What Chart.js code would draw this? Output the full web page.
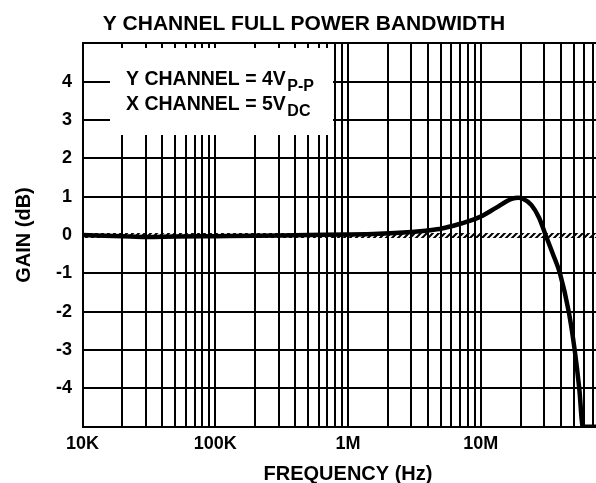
<!DOCTYPE html>
<html>
<head>
<meta charset="utf-8">
<script src="https://cdn.jsdelivr.net/npm/chart.js@4"></script>
<style>
html, body { margin: 0; padding: 0; overflow: hidden; background: #fff; width: 596px; height: 483px; }
#wrap { width: 620px; height: 483px; }
canvas { display: block; }
</style>
</head>
<body>
<div id="wrap"><canvas id="c" width="620" height="483"></canvas></div>
<script>
// ---- text ----
const chartTitle = 'Y CHANNEL FULL POWER BANDWIDTH';
const xAxisTitle = 'FREQUENCY (Hz)';
const yAxisTitle = 'GAIN (dB)';
const legendMain = ['Y CHANNEL = 4V', 'X CHANNEL = 5V'];
const legendSub = ['P-P', 'DC'];

// ---- data ----
const frequencyHz = [1e4, 2e4, 3e4, 5e4, 1e5, 2e5, 5e5, 1e6, 1.7e6, 3e6, 4e6, 5.1e6, 6.8e6, 9.1e6, 1e7,
  1.29e7, 1.71e7, 1.93e7, 2.06e7, 2.41e7, 2.75e7, 3.08e7, 3.5e7, 3.95e7, 4.6e7, 5.1e7, 5.52e7, 5.88e7, 1e8];
const gainDb = [0.0, -0.03, -0.05, -0.04, -0.03, -0.02, 0.0, 0.01, 0.03, 0.08, 0.12, 0.17, 0.28, 0.42, 0.48,
  0.7, 0.94, 0.97, 0.95, 0.78, 0.45, 0.0, -0.5, -1.0, -2.0, -3.0, -4.0, -5.0, -5.0];

// ---- axes ----
const decadeStarts = [1e4, 1e5, 1e6, 1e7];
const decadeMultipliers = [1, 2, 3, 4, 5, 6, 7, 8, 9];
const xGridValues = decadeStarts.flatMap(d => decadeMultipliers.map(m => m * d)).concat([1e8]);
const xLabelValues = [1e4, 1e5, 1e6, 1e7];
const xLabelTexts = ['10K', '100K', '1M', '10M'];
const yLabelValues = [-4, -3, -2, -1, 0, 1, 2, 3, 4];
const yLabelTexts = ['-4', '-3', '-2', '-1', '0', '1', '2', '3', '4'];

const FONT = "'Liberation Sans', Arial, Helvetica, sans-serif";

function makeHatch() {
  const c = document.createElement('canvas');
  c.width = 6; c.height = 6;
  const g = c.getContext('2d');
  g.strokeStyle = '#000';
  g.lineWidth = 2;
  g.beginPath();
  g.moveTo(-1, 7); g.lineTo(7, -1);
  g.moveTo(-7, 7); g.lineTo(1, -1);
  g.moveTo(5, 7); g.lineTo(13, -1);
  g.stroke();
  return g.createPattern(c, 'repeat');
}
const hatch = makeHatch();

const overlay = {
  id: 'overlay',
  beforeDatasetsDraw(chart) {
    const ctx = chart.ctx;
    ctx.save();
    // white legend panel over the grid
    ctx.fillStyle = '#fff';
    ctx.fillRect(110, 48, 223, 87);
    ctx.fillStyle = '#000';
    ctx.textBaseline = 'alphabetic';
    ctx.textAlign = 'left';
    const baselines = [85, 110];
    for (let i = 0; i < legendMain.length; i++) {
      ctx.font = 'bold 19.5px ' + FONT;
      ctx.fillText(legendMain[i], 126, baselines[i]);
      const w = ctx.measureText(legendMain[i]).width;
      ctx.font = 'bold 16px ' + FONT;
      ctx.fillText(legendSub[i], 126 + w + 1.5, baselines[i] + 6);
    }
    ctx.restore();
  },
  afterDraw(chart) {
    const ctx = chart.ctx;
    ctx.save();
    ctx.fillStyle = '#000';
    ctx.font = 'bold 21px ' + FONT;
    ctx.textAlign = 'center';
    ctx.textBaseline = 'alphabetic';
    ctx.fillText(chartTitle, 304, 30);
    ctx.restore();
  }
};

new Chart(document.getElementById('c'), {
  type: 'line',
  data: {
    datasets: [{
      data: frequencyHz.map((f, i) => ({ x: f, y: gainDb[i] })),
      borderColor: '#000',
      borderWidth: 4.5,
      pointRadius: 0,
      cubicInterpolationMode: 'monotone',
      fill: false
    }]
  },
  options: {
    responsive: false,
    animation: false,
    layout: { padding: { top: 43.3, right: 4.7, left: 0, bottom: 0 } },
    plugins: { legend: { display: false }, tooltip: { enabled: false }, title: { display: false } },
    scales: {
      x: {
        type: 'logarithmic',
        min: 1e4,
        max: 1e8,
        afterBuildTicks: s => { s.ticks = xGridValues.map(v => ({ value: v })); },
        afterFit: s => { s.height = 56.3; },
        grid: { color: '#000', lineWidth: 2, drawTicks: false },
        border: { display: true, color: '#000', width: 2 },
        ticks: {
          autoSkip: false, maxRotation: 0, minRotation: 0, padding: 6.5, color: '#000',
          font: { family: FONT, size: 18, weight: 'bold' },
          callback: v => { const i = xLabelValues.indexOf(v); return i >= 0 ? xLabelTexts[i] : ''; }
        },
        title: {
          display: true, text: xAxisTitle, color: '#000',
          font: { family: FONT, size: 20, weight: 'bold', lineHeight: 0.9 },
          padding: { top: 0, bottom: 0 }
        }
      },
      y: {
        min: -5,
        max: 5,
        afterFit: s => { s.width = 82.5; },
        grid: {
          drawTicks: false,
          color: c => (c.tick && c.tick.value === 0) ? hatch : '#000',
          lineWidth: c => (c.tick && c.tick.value === 0) ? 5 : 2
        },
        border: { display: true, color: '#000', width: 2 },
        ticks: {
          stepSize: 1, padding: 10.5, color: '#000',
          font: { family: FONT, size: 18, weight: 'bold' },
          callback: v => { const i = yLabelValues.indexOf(v); return i >= 0 ? yLabelTexts[i] : ''; }
        },
        title: {
          display: true, text: yAxisTitle, color: '#000',
          font: { family: FONT, size: 20, weight: 'bold', lineHeight: 1.2 },
          padding: { top: 12, bottom: 0 }
        }
      }
    }
  },
  plugins: [overlay]
});
</script>
</body>
</html>
